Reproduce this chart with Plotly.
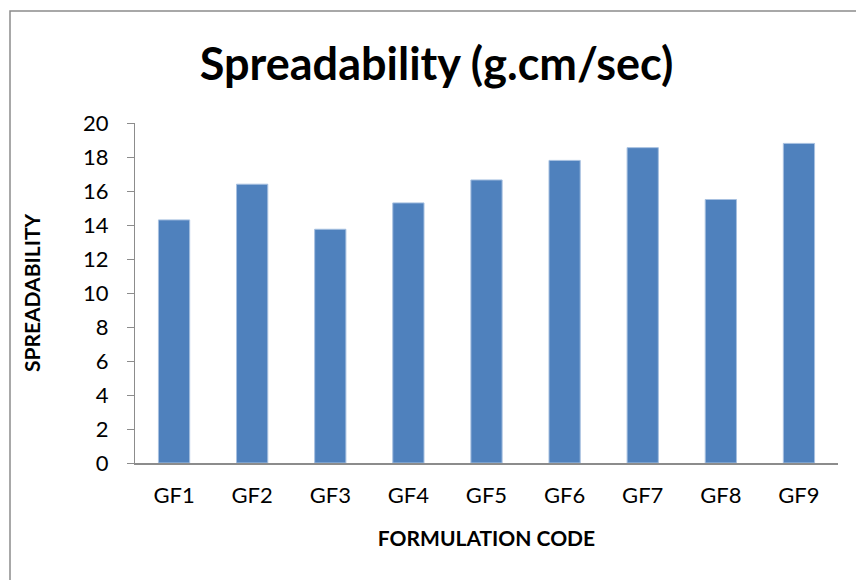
import plotly.graph_objects as go

categories = ["GF1", "GF2", "GF3", "GF4", "GF5", "GF6", "GF7", "GF8", "GF9"]
spreadability = [14.3, 16.4, 13.75, 15.3, 16.65, 17.8, 18.55, 15.5, 18.8]
y_ticks = list(range(0, 21, 2))

W, H = 856, 580
L, R, T, B = 135, 18, 123, 117
pw, ph = W - L - R, H - T - B

fig = go.Figure()
fig.add_trace(go.Bar(
    x=categories, y=spreadability,
    marker=dict(color="#4F81BD", line=dict(color="#A7C0E0", width=1)),
    width=0.4,
))

def px_x(p):
    return (p - L) / pw

def px_y(p):
    return (H - B - p) / ph

fig.update_layout(
    width=W, height=H,
    margin=dict(l=L, r=R, t=T, b=B),
    paper_bgcolor="white", plot_bgcolor="white",
    showlegend=False,
    title=dict(text="<b>Spreadability (g.cm/sec)</b>", x=0.51, xanchor="center",
               y=1 - 64 / H, yanchor="middle",
               font=dict(family="Lato", size=45, color="black")),
    font=dict(family="Lato", color="black"),
    xaxis=dict(
        showline=True, linecolor="#8C8C8C", linewidth=2,
        ticks="", tickfont=dict(size=22, color="black"),
        title=dict(text="<b>FORMULATION CODE</b>", font=dict(size=21), standoff=24),
        ticklabelstandoff=12,
    ),
    yaxis=dict(
        range=[0, 20], tickvals=y_ticks,
        showline=True, linecolor="#8C8C8C", linewidth=1,
        ticks="outside", ticklen=7, tickcolor="#8C8C8C",
        showgrid=False, zeroline=False,
        tickfont=dict(size=22, color="black"),
        ticklabelstandoff=14,
        title=dict(text="<b>SPREADABILITY</b>", font=dict(size=21), standoff=36),
    ),
    shapes=[dict(
        type="rect", xref="paper", yref="paper",
        x0=px_x(10), x1=px_x(W + 20), y0=px_y(H + 20), y1=px_y(11),
        line=dict(color="#8C8C8C", width=1.5), fillcolor="rgba(0,0,0,0)", layer="below",
    )],
)

fig.write_html("out.html")
